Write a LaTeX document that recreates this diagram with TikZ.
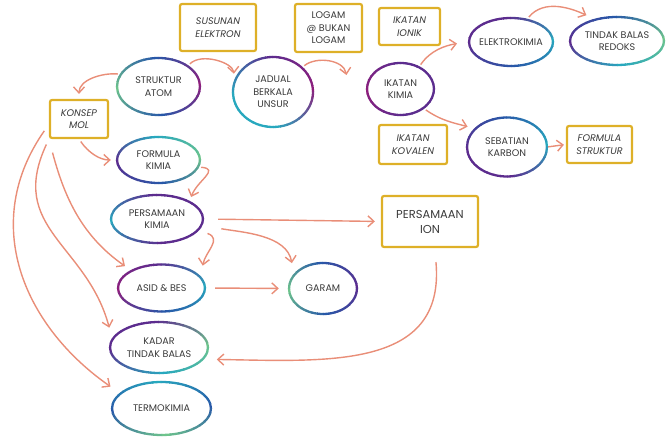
\documentclass[tikz,border=0pt]{standalone}
\usepackage{fontspec}
\setmainfont{Poppins}
\usetikzlibrary{shapes.geometric,arrows.meta}
\definecolor{boxgold}{RGB}{222,176,40}
\definecolor{arrowred}{RGB}{233,142,120}
\definecolor{txtgrey}{RGB}{58,58,58}
\definecolor{cgreen}{RGB}{110,196,140}
\definecolor{cteal}{RGB}{40,168,190}
\definecolor{cblue}{RGB}{40,88,168}
\definecolor{cpurple}{RGB}{92,44,142}
\definecolor{cmagenta}{RGB}{142,30,124}
\newcommand{\colring}[7]{%
	\foreach \t in {0,10,...,350}{
		\pgfmathtruncatemacro{\q}{\t/90}
		\pgfmathtruncatemacro{\f}{100-mod(\t,90)*10/9}
		\ifcase\q \colorlet{rc}{#4!\f!#5}\or \colorlet{rc}{#5!\f!#6}\or \colorlet{rc}{#6!\f!#7}\or \colorlet{rc}{#7!\f!#4}\fi
		\draw[rc, line width=2.3pt] (#1.center) ++(\t:#2 and #3) arc[start angle=\t, delta angle=11, x radius=#2, y radius=#3];
	}
}
\begin{document}
\begin{tikzpicture}[x=1pt, y=1pt,
		bubble/.style={ellipse, inner sep=0pt, align=center, text=txtgrey, font=\fontsize{9.6}{12.5}\selectfont},
		tagbox/.style={rectangle, draw=boxgold, line width=2.2pt, rounded corners=2pt, inner sep=0pt, align=center, text=txtgrey, font=\fontsize{9.6}{12.5}\selectfont},
		itagbox/.style={tagbox, font=\fontsize{9.6}{12.5}\selectfont\itshape},
		link/.style={draw=arrowred, line width=1.4pt, -{Straight Barb[length=6pt,width=11pt]}, shorten <=3pt, shorten >=6pt}]
	\useasboundingbox (0,0) rectangle (672,438);
	\node[itagbox, minimum width=76pt, minimum height=47pt] (susunan) at (218,410.5) {SUSUNAN\\ELEKTRON};
	\node[tagbox, minimum width=67pt, minimum height=48pt] (logam) at (328.5,410) {LOGAM\\@ BUKAN\\LOGAM};
	\node[itagbox, minimum width=61pt, minimum height=37pt] (ionik) at (409.5,411.5) {IKATAN\\IONIK};
	\node[itagbox, minimum width=58pt, minimum height=38pt] (mol) at (79,319) {KONSEP\\MOL};
	\node[itagbox, minimum width=68pt, minimum height=39pt] (kovalen) at (413,293.5) {IKATAN\\KOVALEN};
	\node[itagbox, minimum width=65pt, minimum height=37pt] (fstruktur) at (599.5,293.5) {FORMULA\\STRUKTUR};
	\node[tagbox, minimum width=96pt, minimum height=51pt, font=\fontsize{11.5}{15}\selectfont] (pion) at (430,216.5) {PERSAMAAN\\ION};
	\node[bubble, minimum width=83pt, minimum height=57pt] (atom) at (158.5,351.5) {STRUKTUR\\ATOM};
	\node[bubble, minimum width=80pt, minimum height=70pt] (jadual) at (273,346) {JADUAL\\BERKALA\\UNSUR};
	\node[bubble, minimum width=67pt, minimum height=52pt] (ikkimia) at (400.5,349) {IKATAN\\KIMIA};
	\node[bubble, minimum width=84pt, minimum height=48pt] (elektro) at (511,396) {ELEKTROKIMIA};
	\node[bubble, minimum width=94pt, minimum height=48pt] (redoks) at (617,397) {TINDAK BALAS\\REDOKS};
	\node[bubble, minimum width=80pt, minimum height=59pt] (karbon) at (507,291) {SEBATIAN\\KARBON};
	\node[bubble, minimum width=83pt, minimum height=46pt] (fkimia) at (158.5,278) {FORMULA\\KIMIA};
	\node[bubble, minimum width=92pt, minimum height=48pt] (pkimia) at (157,219) {PERSAMAAN\\KIMIA};
	\node[bubble, minimum width=87pt, minimum height=47pt] (asid) at (161.5,150) {ASID \& BES};
	\node[bubble, minimum width=68pt, minimum height=51pt] (garam) at (323,149.5) {GARAM};
	\node[bubble, minimum width=98pt, minimum height=51pt] (kadar) at (159,90.5) {KADAR\\TINDAK BALAS};
	\node[bubble, minimum width=99pt, minimum height=53pt] (termo) at (161.5,29.5) {TERMOKIMIA};
	\colring{atom}{41.5}{28.5}{cmagenta}{cblue}{cgreen}{cblue}
	\colring{jadual}{40}{35}{cmagenta}{cpurple}{cteal}{cteal}
	\colring{ikkimia}{33.5}{26}{cpurple}{cpurple}{cmagenta}{cpurple}
	\colring{elektro}{42}{24}{cteal}{cpurple}{cpurple}{cblue}
	\colring{redoks}{47}{24}{cgreen}{cblue}{cpurple}{cteal}
	\colring{karbon}{40}{29.5}{cteal}{cblue}{cpurple}{cpurple}
	\colring{fkimia}{41.5}{23}{cgreen}{cteal}{cpurple}{cblue}
	\colring{pkimia}{46}{24}{cpurple}{cpurple}{cteal}{cpurple}
	\colring{asid}{43.5}{23.5}{cteal}{cpurple}{cmagenta}{cblue}
	\colring{garam}{34}{25.5}{cpurple}{cblue}{cgreen}{cblue}
	\colring{kadar}{49}{25.5}{cgreen}{cpurple}{cpurple}{cteal}
	\colring{termo}{49.5}{26.5}{cblue}{cteal}{cblue}{cgreen}
	\draw[link, shorten >=5pt] (atom.162) to[out=175,in=90] (mol.north);
	\draw[link, shorten >=8pt] (atom.35) to[out=45,in=95] (jadual.165);
	\draw[link, shorten >=2pt] (jadual.40) to[out=40,in=100] ([xshift=-20pt,yshift=12pt]ikkimia.west);
	\draw[link, shorten >=9pt] (ikkimia.50) to[out=55,in=190] (elektro.west);
	\draw[link, shorten >=10pt] (elektro.55) to[out=50,in=155] (redoks.135);
	\draw[link, shorten >=8pt] (ikkimia.-40) to[out=-35,in=165] (karbon.150);
	\draw[link, shorten <=1pt, shorten >=2pt] (karbon.east) -- (fstruktur.west);
	\draw[link] (mol.south) to[out=-55,in=180] (fkimia.west);
	\draw[link, shorten >=5pt] (fkimia.-10) to[out=-5,in=70,looseness=1.6] (pkimia.28);
	\draw[link, shorten <=14pt, shorten >=8pt] (mol.south west) to[out=-75,in=145] (asid.150);
	\draw[link, shorten <=6pt, shorten >=12pt] (mol.south west) to[out=245,in=105,looseness=1.2] (kadar.170);
	\draw[link, shorten <=8pt, shorten >=12pt] (mol.190) to[out=235,in=145,looseness=1.1] (termo.160);
	\draw[link, shorten <=10pt, shorten >=12pt] (pkimia.-15) to[out=-20,in=80,looseness=1.4] (asid.15);
	\draw[link, shorten <=20pt, shorten >=12pt] (pkimia.-8) to[out=-10,in=100] (garam.155);
	\draw[link, shorten <=15pt, shorten >=6pt] (pkimia.east) -- (pion.west);
	\draw[link, shorten <=10pt, shorten >=10pt] (asid.east) -- (garam.west);
	\draw[link, shorten <=14pt, shorten >=14pt] (pion.-80) .. controls +(11,-122) and +(124,-2) .. (kadar.-15);
\end{tikzpicture}
\end{document}
